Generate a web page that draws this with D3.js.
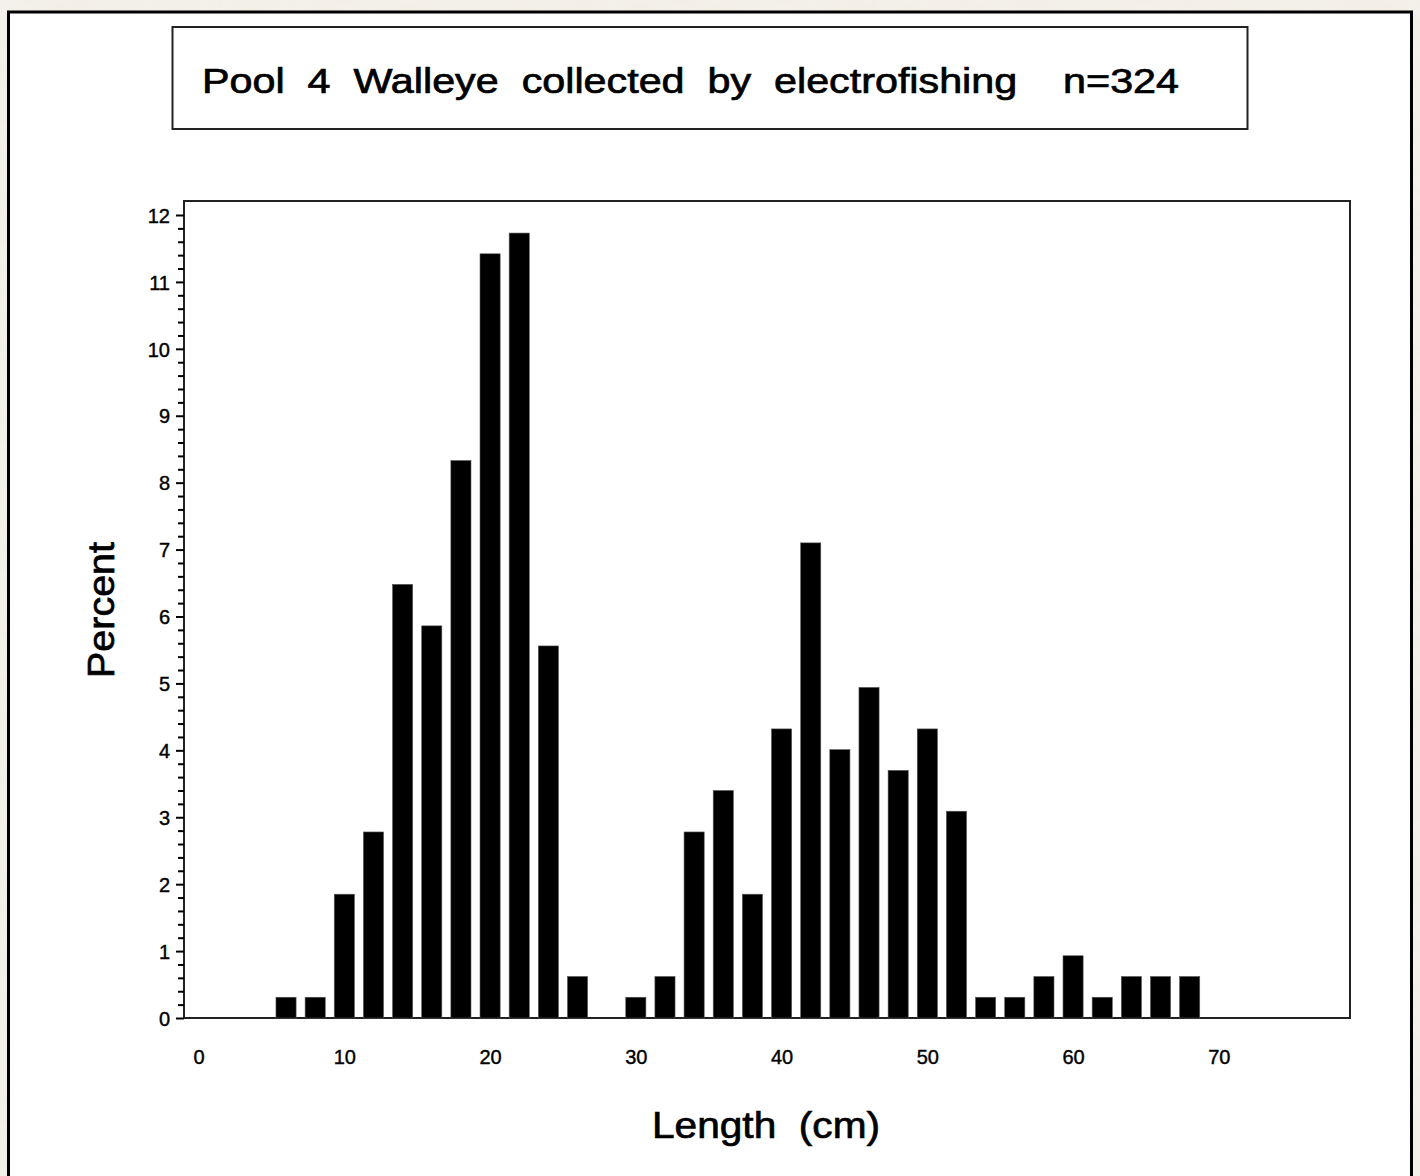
<!DOCTYPE html>
<html>
<head>
<meta charset="utf-8">
<script src="https://cdn.jsdelivr.net/npm/d3@7"></script>
<style>
  html, body { margin: 0; padding: 0; background: #f3efe8; }
  svg { display: block; }
</style>
</head>
<body>
<script>
// ---- Data ----
const lengthMid = [6, 8, 10, 12, 14, 16, 18, 20, 22, 24, 26, 28, 30, 32, 34, 36, 38, 40, 42, 44, 46, 48, 50, 52, 54, 56, 58, 60, 62, 64, 66, 68];
const percent   = [0.31, 0.31, 1.85, 2.78, 6.48, 5.86, 8.33, 11.42, 11.73, 5.56, 0.62, 0, 0.31, 0.62, 2.78, 3.40, 1.85, 4.32, 7.10, 4.01, 4.94, 3.70, 4.32, 3.09, 0.31, 0.31, 0.62, 0.93, 0.31, 0.62, 0.62, 0.62];
const xTicks = [0, 10, 20, 30, 40, 50, 60, 70];
const yTicks = [0, 1, 2, 3, 4, 5, 6, 7, 8, 9, 10, 11, 12];
const titleText = "Pool  4  Walleye  collected  by  electrofishing    n=324";
const xLabel = "Length  (cm)";
const yLabel = "Percent";

const W = 1420, H = 1176;
const font = "'Liberation Sans', Arial, sans-serif";

const svg = d3.select("body").append("svg").attr("width", W).attr("height", H);

// textured background
const defs = svg.append("defs");
const f = defs.append("filter").attr("id", "tex").attr("x", 0).attr("y", 0).attr("width", "100%").attr("height", "100%");
f.append("feTurbulence").attr("type", "fractalNoise").attr("baseFrequency", "0.03 0.08").attr("numOctaves", 3).attr("seed", 4).attr("result", "n");
f.append("feColorMatrix").attr("in", "n").attr("type", "matrix")
  .attr("values", "0 0 0 0 0.90  0 0 0 0 0.88  0 0 0 0 0.83  0 0 0 -1.6 1.25");
svg.append("rect").attr("width", W).attr("height", H).attr("fill", "#f3efe8");
svg.append("rect").attr("width", W).attr("height", H).attr("filter", "url(#tex)").attr("opacity", 0.9);

// white panel
svg.append("rect").attr("x", 8.5).attr("y", 12).attr("width", 1403).attr("height", H)
  .attr("fill", "#fff").attr("stroke", "#000").attr("stroke-width", 3);

// title box
svg.append("rect").attr("x", 172.5).attr("y", 27).attr("width", 1075).attr("height", 102)
  .attr("fill", "#fff").attr("stroke", "#222").attr("stroke-width", 2);
svg.append("text").attr("x", 202).attr("y", 93)
  .attr("font-family", font).attr("font-size", 35).attr("fill", "#000")
  .attr("stroke", "#000").attr("stroke-width", 0.7)
  .attr("textLength", 977).attr("lengthAdjust", "spacingAndGlyphs")
  .style("white-space", "pre").text(titleText);

// scales
const plot = { l: 184, r: 1350, t: 201, b: 1018 };
const x = d3.scaleLinear().domain([-1, 79]).range([plot.l, plot.r]);
const y = d3.scaleLinear().domain([0, 12]).range([plot.b, 215]);

// frame
svg.append("rect").attr("x", plot.l).attr("y", plot.t).attr("width", plot.r - plot.l).attr("height", plot.b - plot.t)
  .attr("fill", "none").attr("stroke", "#222").attr("stroke-width", 2);

// bars
const hw = 0.69;
svg.append("g").selectAll("rect").data(lengthMid.map((m, i) => ({ m, v: percent[i] })).filter(d => d.v > 0))
  .join("rect")
  .attr("x", d => x(d.m - hw))
  .attr("width", d => x(d.m + hw) - x(d.m - hw))
  .attr("y", d => y(d.v))
  .attr("height", d => y(0) - y(d.v))
  .attr("fill", "#000").attr("stroke", "#555").attr("stroke-width", 0.6);

// y axis
const yAxis = d3.axisLeft(y).tickValues(yTicks).tickSize(8).tickPadding(6).tickFormat(d3.format("d"));
const gy = svg.append("g").attr("transform", `translate(${plot.l},0)`).call(yAxis);
gy.select(".domain").remove();
gy.selectAll(".tick line").attr("stroke", "#000").attr("stroke-width", 2);
gy.selectAll(".tick text").attr("font-family", font).attr("font-size", 20).attr("fill", "#000")
  .attr("stroke", "#000").attr("stroke-width", 0.4).attr("dy", "0.36em");
const minor = d3.range(0, 12.001, 0.2).filter(v => Math.abs(v - Math.round(v)) > 0.01);
const gm = svg.append("g").attr("transform", `translate(${plot.l},0)`).call(
  d3.axisLeft(y).tickValues(minor).tickSize(6).tickFormat(""));
gm.select(".domain").remove();
gm.selectAll(".tick line").attr("stroke", "#000").attr("stroke-width", 2);

// x axis labels (no tick marks)
const xAxis = d3.axisBottom(x).tickValues(xTicks).tickSize(0).tickPadding(32).tickFormat(d3.format("d"));
const gx = svg.append("g").attr("transform", `translate(0,${plot.b})`).call(xAxis);
gx.select(".domain").remove();
gx.selectAll(".tick text").attr("font-family", font).attr("font-size", 20).attr("fill", "#000")
  .attr("stroke", "#000").attr("stroke-width", 0.4);

// axis labels
svg.append("text").attr("x", 766).attr("y", 1138).attr("text-anchor", "middle")
  .attr("font-family", font).attr("font-size", 36).attr("fill", "#000")
  .attr("stroke", "#000").attr("stroke-width", 0.7)
  .attr("textLength", 228).attr("lengthAdjust", "spacingAndGlyphs")
  .style("white-space", "pre").text(xLabel);
svg.append("text").attr("transform", "translate(114,610) rotate(-90)").attr("text-anchor", "middle")
  .attr("font-family", font).attr("font-size", 36).attr("fill", "#000")
  .attr("stroke", "#000").attr("stroke-width", 0.7)
  .attr("textLength", 136).attr("lengthAdjust", "spacingAndGlyphs")
  .text(yLabel);
</script>
</body>
</html>
